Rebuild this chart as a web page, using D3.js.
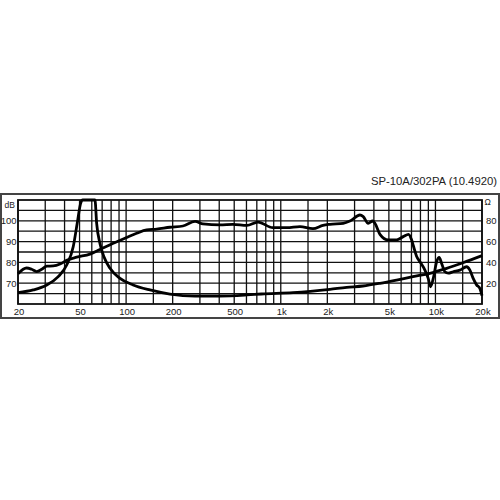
<!DOCTYPE html>
<html>
<head>
<meta charset="utf-8">
<script src="https://cdn.jsdelivr.net/npm/d3@7"></script>
<style>
  body { margin: 0; background: #fff; }
  svg { display: block; }
  text { font-family: "Liberation Sans", Arial, sans-serif; fill: #222; }
</style>
</head>
<body>
<div class="chart"></div>
<script>
const w = 500;
const h = 500;

// chart data
const title = "SP-10A/302PA (10.4920)";

const splFreq = [20, 22.7, 24.5, 26.4, 28.5, 30.7, 33.8, 37.4, 41.3, 47.9, 58.4, 67.8, 82.6, 100.9, 117, 135.8, 157.6, 192,
  233, 279, 314, 405, 491, 604, 712, 889, 1096, 1330, 1614, 1875, 2080, 2535, 2800, 3250, 3414, 3674, 3926, 4063,
  4377, 4955, 5609, 6193, 6700, 7000, 7200, 7550, 7940, 8550, 8980, 9300, 9680, 10180, 10575, 10965, 11510, 12100,
  13030, 14390, 15890, 16700, 17540, 18450, 19370, 20000];
const splDb = [74.5, 77.3, 76.7, 75.6, 76.7, 78.2, 78.3, 79.2, 81, 82.5, 84, 86.2, 89.2, 92, 94, 95.6, 96, 96.9,
  97.5, 99.7, 98.5, 98, 98.3, 97.8, 99.4, 96.7, 96.7, 97.2, 96.2, 97.8, 98.3, 98.8, 99.9, 102.8, 102, 98.8, 99.9, 98.8,
  93.5, 90.8, 90.8, 92.4, 93.5, 91, 88, 83, 80.3, 76.3, 72.3, 68.3, 72.3, 80.3, 82.4, 79.5, 75.5, 74.8,
  75.5, 76.3, 77.9, 76.3, 72.3, 69.2, 67.5, 64];

const impFreq = [20, 25.1, 30.7, 36.4, 41.3, 45.5, 48.3, 50.8, 52.4, 62.9, 64.5, 67.8, 71.9, 78.7, 91.3, 111, 142.6, 192,
  279, 405, 604, 750, 1200, 2080, 2666, 3397, 4377, 5609, 7151, 9207, 11810, 15060, 20000];
const impOhm = [10.9, 13.5, 18.3, 26.3, 37.5, 55, 77.6, 96.8, 100, 100, 77.6, 58, 45.5, 34.3, 24.7, 18.3, 13.5, 9.6,
  7.7, 7.7, 8.7, 9.6, 10.9, 14.1, 16, 17.3, 19.9, 23, 26.3, 29.5, 34.3, 39.7, 46.5];

const gridFreq = [20, 30, 40, 50, 60, 70, 80, 90, 100, 150, 200, 300, 400, 500, 600, 700, 800, 900, 1000, 1500,
  2000, 3000, 4000, 5000, 6000, 7000, 8000, 9000, 10000, 15000, 20000];
const freqLabels = [20, 50, 100, 200, 500, 1000, 2000, 5000, 10000, 20000];
const dbTicks = [70, 80, 90, 100];
const ohmTicks = [20, 40, 60, 80];

//plot box
const pLeft = 18, pRight = 482, pTop = 200, pBottom = 304;

const svg = d3.select(".chart").append("svg")
  .attr("width", w)
  .attr("height", h);

const x = d3.scaleLog().domain([20, 20000]).range([pLeft, pRight]);
const yDb = d3.scaleLinear().domain([60, 110]).range([pBottom, pTop]);
const yOhm = d3.scaleLinear().domain([0, 100]).range([pBottom, pTop]);

//outer frame
svg.append("rect")
  .attr("x", 1).attr("y", 194)
  .attr("width", 498).attr("height", 124)
  .attr("fill", "none")
  .attr("stroke", "#444")
  .attr("stroke-width", 2);

//title
svg.append("text")
  .attr("x", 497).attr("y", 185)
  .attr("text-anchor", "end")
  .style("font-size", "11.3px")
  .text(title);

//grid
const grid = svg.append("g").attr("stroke", "#111").attr("stroke-width", 1.3);
grid.selectAll(".vx").data(gridFreq).enter().append("line")
  .attr("x1", d => x(d)).attr("x2", d => x(d))
  .attr("y1", pTop).attr("y2", pBottom);
grid.selectAll(".hy").data(d3.range(65, 110, 5)).enter().append("line")
  .attr("x1", pLeft).attr("x2", pRight)
  .attr("y1", d => yDb(d)).attr("y2", d => yDb(d));

svg.append("rect")
  .attr("x", pLeft).attr("y", pTop)
  .attr("width", pRight - pLeft).attr("height", pBottom - pTop)
  .attr("fill", "none")
  .attr("stroke", "#111")
  .attr("stroke-width", 1.8);

//tick labels
const fmt = d => d >= 1000 ? (d / 1000) + "k" : d;
svg.append("g").selectAll("text").data(freqLabels).enter().append("text")
  .attr("x", d => x(d) + 1).attr("y", 315)
  .attr("text-anchor", "middle")
  .style("font-size", "9.5px")
  .text(fmt);

svg.append("g").selectAll("text").data(dbTicks).enter().append("text")
  .attr("x", 16.5).attr("y", d => yDb(d) + 3.5)
  .attr("text-anchor", "end")
  .style("font-size", "9.5px")
  .text(d => d);
svg.append("text")
  .attr("x", 4.5).attr("y", 208)
  .style("font-size", "8.5px")
  .text("dB");

svg.append("g").selectAll("text").data(ohmTicks).enter().append("text")
  .attr("x", 486).attr("y", d => yOhm(d) + 3.5)
  .style("font-size", "9.5px")
  .text(d => d);
svg.append("text")
  .attr("x", 484.5).attr("y", 204.5)
  .style("font-size", "8.5px")
  .text("Ω");

//curves
const splLine = d3.line()
  .x((d, i) => x(splFreq[i]))
  .y(d => yDb(d))
  .curve(d3.curveMonotoneX);
const impLine = d3.line()
  .x((d, i) => x(impFreq[i]))
  .y(d => yOhm(d))
  .curve(d3.curveMonotoneX);

svg.append("path")
  .attr("d", impLine(impOhm))
  .attr("fill", "none")
  .attr("stroke", "#000")
  .attr("stroke-width", 2.8)
  .attr("stroke-linejoin", "round");

svg.append("path")
  .attr("d", splLine(splDb))
  .attr("fill", "none")
  .attr("stroke", "#000")
  .attr("stroke-width", 2.8)
  .attr("stroke-linejoin", "round");
</script>
</body>
</html>
